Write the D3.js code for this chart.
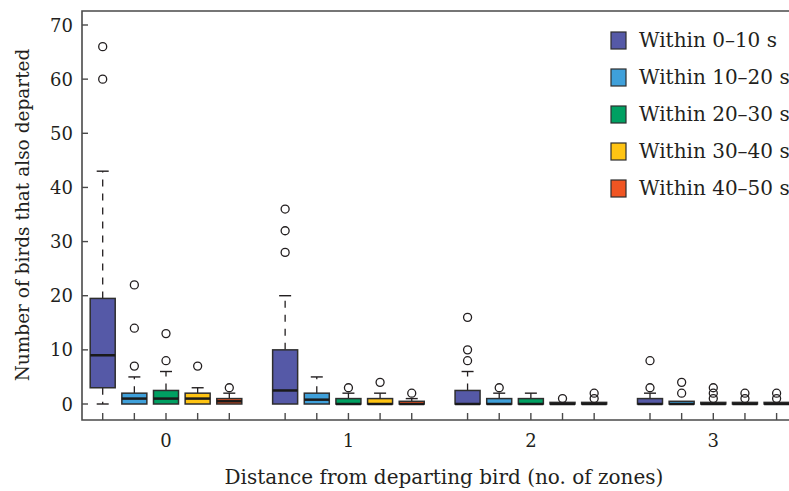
<!DOCTYPE html>
<meta charset="utf-8">
<html>
<script src="https://d3js.org/d3.v7.min.js"></script>
<body style="margin:0;background:#fff;">
<style>
    text { font-family: "DejaVu Serif", serif; fill: #231f20; }
</style>
<div id="chart"></div>
<script>
    // categories
    var groups = [0, 1, 2, 3];
    var series = ["Within 0\u201310 s", "Within 10\u201320 s", "Within 20\u201330 s", "Within 30\u201340 s", "Within 40\u201350 s"];
    var yTicks = [0, 10, 20, 30, 40, 50, 60, 70];

    // box stats, one row per distance group, one column per series
    var q1 = [
        [3, 0, 0, 0, 0],
        [0, 0, 0, 0, 0],
        [0, 0, 0, 0, 0],
        [0, 0, 0, 0, 0]
    ];
    var medians = [
        [9, 1, 1, 1, 0.5],
        [2.5, 0.8, 0, 0, 0],
        [0, 0, 0, 0, 0],
        [0, 0, 0, 0, 0]
    ];
    var q3 = [
        [19.5, 2, 2.5, 2, 1],
        [10, 2, 1, 1, 0.5],
        [2.5, 1, 1, 0.3, 0.3],
        [1, 0.5, 0.3, 0.3, 0.3]
    ];
    var whiskerLow = [
        [0, 0, 0, 0, 0],
        [0, 0, 0, 0, 0],
        [0, 0, 0, 0, 0],
        [0, 0, 0, 0, 0]
    ];
    var whiskerHigh = [
        [43, 5, 6, 3, 2],
        [20, 5, 2, 2, 1],
        [6, 2, 2, null, null],
        [2, null, null, null, null]
    ];
    var outliers = [
        [[60, 66], [7, 14, 22], [8, 13], [7], [3]],
        [[28, 32, 36], [], [3], [4], [2]],
        [[8, 10, 16], [3], [], [1], [1, 2]],
        [[3, 8], [2, 4], [1, 2, 3], [1, 2], [1, 2]]
    ];

    var colors = ["#5559a7", "#3fa0da", "#00a062", "#ffc413", "#f05523"];

    var W = 789, H = 491;
    var frameL = 82, frameT = 11, frameB = 420, frameR = 789;

    var svg = d3.select("#chart").append("svg")
        .attr("width", W)
        .attr("height", H);

    // scales
    var y = d3.scaleLinear().domain([0, 70]).range([404, 25]);
    var x = d3.scaleLinear().domain([0, 3]).range([166, 713.3]);
    var inner = d3.scalePoint().domain(d3.range(series.length)).range([-63.3, 63.3]);
    var boxW = 25, capW = 12;

    // flatten boxes
    var boxes = [];
    groups.forEach(function(g, gi) {
        series.forEach(function(s, si) {
            boxes.push({
                g: gi, s: si,
                cx: x(g) + inner(si),
                q1: q1[gi][si], med: medians[gi][si], q3: q3[gi][si],
                lo: whiskerLow[gi][si], hi: whiskerHigh[gi][si],
                out: outliers[gi][si]
            });
        });
    });

    // frame (open on the right)
    svg.append("path")
        .attr("d", "M" + frameR + "," + frameT + "H" + frameL + "V" + frameB + "H" + frameR)
        .attr("fill", "none")
        .attr("stroke", "#4a4a4a")
        .attr("stroke-width", 1.6);

    // y ticks and labels
    svg.selectAll(".ytick").data(yTicks).enter().append("line")
        .attr("x1", frameL).attr("x2", frameL + 6)
        .attr("y1", function(d) { return y(d); })
        .attr("y2", function(d) { return y(d); })
        .attr("stroke", "#4a4a4a").attr("stroke-width", 1.4);
    svg.selectAll(".ylab").data(yTicks).enter().append("text")
        .attr("x", 73)
        .attr("y", function(d) { return y(d) + 6.5; })
        .attr("text-anchor", "end")
        .style("font-size", "18px")
        .text(function(d) { return d; });

    // x ticks, one per box
    svg.selectAll(".xtick").data(boxes).enter().append("line")
        .attr("x1", function(d) { return d.cx; })
        .attr("x2", function(d) { return d.cx; })
        .attr("y1", frameB - 7).attr("y2", frameB)
        .attr("stroke", "#4a4a4a").attr("stroke-width", 1.4);

    svg.selectAll(".xlab").data(groups).enter().append("text")
        .attr("x", function(d) { return x(d); })
        .attr("y", 447)
        .attr("text-anchor", "middle")
        .style("font-size", "18px")
        .text(function(d) { return d; });

    // axis titles
    svg.append("text")
        .attr("x", 444).attr("y", 484)
        .attr("text-anchor", "middle")
        .style("font-size", "20px")
        .text("Distance from departing bird (no. of zones)");
    svg.append("text")
        .attr("transform", "translate(29,215) rotate(-90)")
        .attr("text-anchor", "middle")
        .style("font-size", "18.5px")
        .text("Number of birds that also departed");

    // whiskers
    var wh = boxes.filter(function(d) { return d.hi != null && d.hi > d.q3; });
    svg.selectAll(".whU").data(wh).enter().append("line")
        .attr("x1", function(d) { return d.cx; }).attr("x2", function(d) { return d.cx; })
        .attr("y1", function(d) { return y(d.q3); }).attr("y2", function(d) { return y(d.hi); })
        .attr("stroke", "#231f20").attr("stroke-width", 1.3)
        .attr("stroke-dasharray", "7,7");
    svg.selectAll(".capU").data(wh).enter().append("line")
        .attr("x1", function(d) { return d.cx - capW / 2; }).attr("x2", function(d) { return d.cx + capW / 2; })
        .attr("y1", function(d) { return y(d.hi); }).attr("y2", function(d) { return y(d.hi); })
        .attr("stroke", "#231f20").attr("stroke-width", 1.4);

    var wl = boxes.filter(function(d) { return d.lo < d.q1; });
    svg.selectAll(".whL").data(wl).enter().append("line")
        .attr("x1", function(d) { return d.cx; }).attr("x2", function(d) { return d.cx; })
        .attr("y1", function(d) { return y(d.q1); }).attr("y2", function(d) { return y(d.lo); })
        .attr("stroke", "#231f20").attr("stroke-width", 1.3)
        .attr("stroke-dasharray", "7,7");
    svg.selectAll(".capL").data(wl).enter().append("line")
        .attr("x1", function(d) { return d.cx - capW / 2; }).attr("x2", function(d) { return d.cx + capW / 2; })
        .attr("y1", function(d) { return y(d.lo); }).attr("y2", function(d) { return y(d.lo); })
        .attr("stroke", "#231f20").attr("stroke-width", 1.4);

    // boxes
    svg.selectAll(".box").data(boxes).enter().append("rect")
        .attr("x", function(d) { return d.cx - boxW / 2; })
        .attr("y", function(d) { return y(d.q3); })
        .attr("width", boxW)
        .attr("height", function(d) { return y(d.q1) - y(d.q3); })
        .attr("fill", function(d) { return colors[d.s]; })
        .attr("stroke", "#2e2e2e").attr("stroke-width", 1.5);

    // medians
    svg.selectAll(".med").data(boxes).enter().append("line")
        .attr("x1", function(d) { return d.cx - boxW / 2; }).attr("x2", function(d) { return d.cx + boxW / 2; })
        .attr("y1", function(d) { return y(d.med); }).attr("y2", function(d) { return y(d.med); })
        .attr("stroke", "#1a1a1a").attr("stroke-width", 2.5);

    // outliers
    var pts = [];
    boxes.forEach(function(b) {
        b.out.forEach(function(v) { pts.push({ cx: b.cx, v: v }); });
    });
    svg.selectAll(".out").data(pts).enter().append("circle")
        .attr("cx", function(d) { return d.cx; })
        .attr("cy", function(d) { return y(d.v); })
        .attr("r", 4)
        .attr("fill", "none")
        .attr("stroke", "#231f20").attr("stroke-width", 1.3);

    // legend
    var legend = svg.selectAll(".leg").data(series).enter().append("g")
        .attr("transform", function(d, i) { return "translate(611," + (32 + i * 37) + ")"; });
    legend.append("rect")
        .attr("width", 15).attr("height", 17)
        .attr("fill", function(d, i) { return colors[i]; })
        .attr("stroke", "#2e2e2e").attr("stroke-width", 1.2);
    legend.append("text")
        .attr("x", 28).attr("y", 15)
        .style("font-size", "20px")
        .text(function(d) { return d; });
</script>
</body>
</html>
